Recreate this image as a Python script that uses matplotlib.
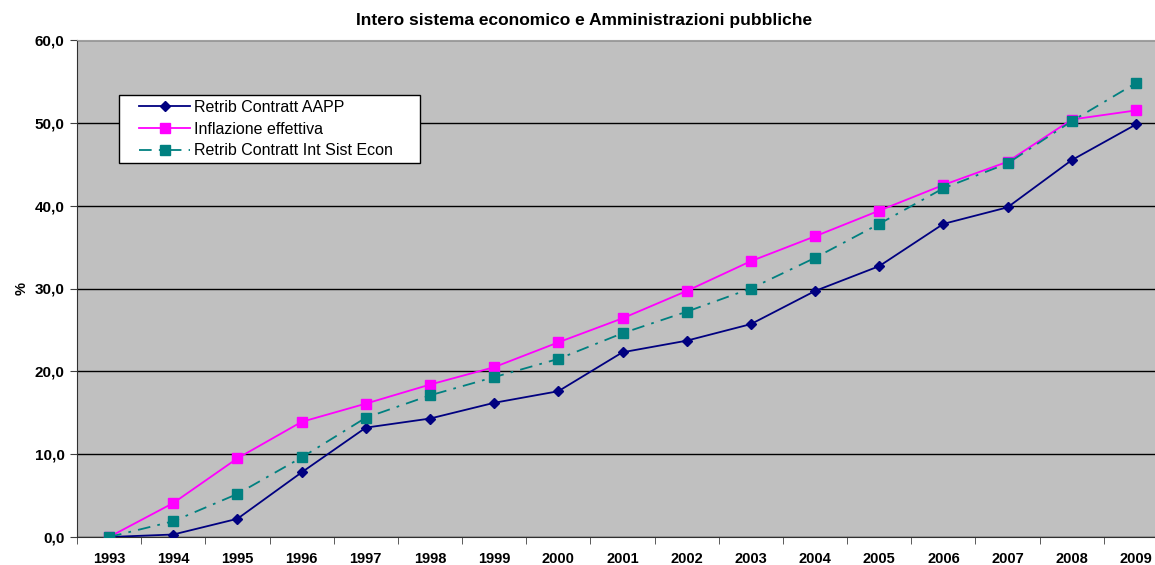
import matplotlib
matplotlib.use('Agg')
import matplotlib.pyplot as plt
from matplotlib.patches import Rectangle
from matplotlib.ticker import FuncFormatter

years = [str(y) for y in range(1993, 2010)]
retrib_aapp = [0.0, 0.3, 2.2, 7.8, 13.2, 14.3, 16.2, 17.6, 22.3, 23.7, 25.7, 29.7, 32.7, 37.8, 39.8, 45.5, 49.8]
inflazione = [0.0, 4.1, 9.5, 13.9, 16.1, 18.4, 20.5, 23.5, 26.4, 29.7, 33.3, 36.3, 39.4, 42.5, 45.3, 50.4, 51.5]
retrib_int = [0.0, 1.9, 5.2, 9.6, 14.4, 17.1, 19.3, 21.5, 24.6, 27.2, 30.0, 33.7, 37.8, 42.1, 45.1, 50.2, 54.8]

plt.rcParams['font.family'] = ['Liberation Sans', 'DejaVu Sans']

W, H = 1155, 565
fig = plt.figure(figsize=(W / 100, H / 100), dpi=100)
# plot area runs past the right edge of the picture, as in the original
ax = fig.add_axes([77 / W, 1 - 537 / H, 1091 / W, 497 / H])
ax.set_facecolor('#C0C0C0')

x = range(len(years))
ax.plot(x, retrib_aapp, color='#000080', lw=1.3, marker='D', ms=5.5,
        label='Retrib Contratt AAPP', zorder=4)
ax.plot(x, inflazione, color='#FF00FF', lw=1.3, marker='s', ms=7,
        label='Inflazione effettiva', zorder=3)
ax.plot(x, retrib_int, color='#008080', lw=1.3, marker='s', ms=7,
        linestyle=(0, (7, 4, 1.5, 4)), label='Retrib Contratt Int Sist Econ', zorder=5)

ax.set_xlim(-0.5, len(years) - 0.5)
ax.set_ylim(0, 60)
ax.set_yticks(range(0, 61, 10))
ax.yaxis.set_major_formatter(FuncFormatter(lambda v, p: f'{v:.1f}'.replace('.', ',')))
ax.grid(axis='y', color='black', lw=1)
ax.set_axisbelow(True)

ax.set_xticks(list(x))
ax.set_xticklabels(years)
ax.set_xticks([i - 0.5 for i in range(len(years) + 1)], minor=True)
ax.tick_params(axis='x', which='major', length=0, pad=11)
ax.tick_params(axis='x', which='minor', length=5, color='#404040')
ax.tick_params(axis='y', length=5, color='#404040', pad=4)
for lbl in ax.get_xticklabels():
    lbl.set_fontweight('bold')
    lbl.set_fontsize(10.5)
for lbl in ax.get_yticklabels():
    lbl.set_fontweight('bold')
    lbl.set_fontsize(11)

for side in ['left', 'bottom']:
    ax.spines[side].set_color('#303030')
ax.spines['top'].set_color('#A0A0A0')
ax.spines['right'].set_visible(False)

ax.set_ylabel('%', fontsize=10.5, fontweight='bold', labelpad=4)

fig.text(584 / W, 1 - 20 / H, 'Intero sistema economico e Amministrazioni pubbliche',
         ha='center', va='center', fontsize=12.5, fontweight='bold')

# legend box drawn separately so its padding matches the original
box = Rectangle((119 / W, 1 - 163 / H), 301 / W, 68 / H, transform=fig.transFigure,
                facecolor='white', edgecolor='black', lw=1, zorder=9, clip_on=False)
ax.add_patch(box)
leg = ax.legend(loc='upper left', bbox_to_anchor=(139 / W, 1 - 100 / H),
                bbox_transform=fig.transFigure, fontsize=11.5, frameon=False,
                borderpad=0, labelspacing=0.42, handlelength=3.2,
                handletextpad=0.25, borderaxespad=0)
leg.set_zorder(10)

fig.savefig('out.png', dpi=100)
